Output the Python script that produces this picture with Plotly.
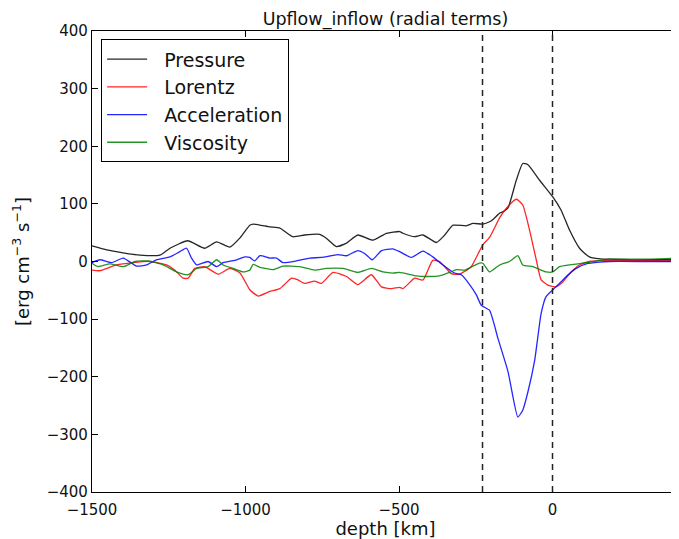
import plotly.graph_objects as go

# ---- data ----
pressure_depth = [-1500, -1452, -1399, -1344, -1279, -1246, -1188, -1133, -1094, -1051, -1018, -986, -975,
                  -921, -888, -846, -807, -758, -736, -704, -671, -634, -585, -541, -498, -487, -449, -422,
                  -378, -351, -324, -281, -259, -227, -205, -194, -172, -162, -145, -118, -97, -80, -42, 1,
                  28, 55, 88, 120, 164, 185, 250, 320, 412]
pressure_vals = [27, 20, 15, 11, 11, 23, 36, 23, 34, 25, 41, 63, 65,
                 60, 58, 43, 46, 47, 40, 26, 32, 46, 37, 49, 52, 49, 43, 46,
                 33, 46, 63, 62, 66, 65, 69, 73, 84, 86, 93, 141, 170, 168, 141, 112,
                 89, 55, 23, 8, 4, 4, 3, 3, 3]

lorentz_depth = [-1500, -1474, -1420, -1366, -1312, -1257, -1230, -1203, -1187, -1165, -1133, -1089, -1051,
                 -1018, -986, -959, -921, -888, -850, -829, -807, -775, -753, -715, -671, -634, -590, -557,
                 -525, -498, -487, -449, -422, -390, -368, -351, -330, -303, -265, -238, -227, -205, -172,
                 -151, -118, -97, -75, -53, -37, -15, 12, 34, 61, 88, 120, 185, 300, 412]
lorentz_vals = [-15, -16, -6, -2, 0, -6, -15, -29, -29, -12, -9, -22, -12,
                -20, -49, -60, -52, -47, -29, -32, -38, -34, -38, -19, -26, -40, -23, -44,
                -47, -45, -47, -29, -32, 2, 0, -9, -21, -22, -9, 18, 29, 42, 76,
                92, 108, 98, 55, 3, -32, -41, -44, -35, -18, -6, 0, 2, 2, 1]

accel_depth = [-1500, -1474, -1436, -1398, -1355, -1322, -1290, -1246, -1214, -1192, -1176, -1159, -1122,
               -1094, -1073, -1029, -1002, -986, -970, -953, -921, -899, -878, -834, -791, -753, -699,
               -671, -634, -612, -587, -557, -520, -498, -460, -422, -390, -357, -319, -297, -270, -248,
               -232, -205, -178, -145, -113, -97, -80, -58, -37, -21, 1, 34, 45, 77, 110, 153, 185, 300, 412]
accel_vals = [-2, 3, -2, 6, -8, -6, 3, 8, 17, 23, 6, -6, 0,
              -9, -2, 3, 8, 7, 1, 10, 6, 6, -2, 1, 6, 7, 12,
              10, 19, 14, 3, 19, 22, 17, 7, 18, 8, -6, -20, -23, -40, -58,
              -76, -85, -133, -191, -270, -258, -226, -171, -90, -61, -49, -32, -26, -12, -4, -1, 0, 0, 0]

visc_depth = [-1500, -1480, -1442, -1398, -1360, -1317, -1268, -1225, -1187, -1159, -1122, -1094, -1073,
              -1040, -1008, -986, -975, -953, -910, -878, -823, -775, -736, -682, -634, -590, -552, -520,
              -498, -444, -411, -368, -335, -313, -286, -259, -238, -227, -205, -172, -140, -113, -97,
              -64, -21, 1, 23, 55, 110, 185, 300, 412]
visc_vals = [-3, -9, -4, -9, 0, 1, -6, -18, -23, -12, -9, 3, -6,
             -12, -18, -15, -5, -10, -14, -8, -9, -15, -12, -12, -19, -12, -18, -20,
             -19, -25, -26, -25, -19, -14, -15, -8, -3, -3, -18, -6, 0, 10, -6,
             -9, -18, -18, -9, -6, -2, 4, 4, 6]

ref_depths = [-228, 0]

series = [
    ("Pressure", pressure_depth, pressure_vals, "#000000"),
    ("Lorentz", lorentz_depth, lorentz_vals, "#ff0000"),
    ("Acceleration", accel_depth, accel_vals, "#0000ff"),
    ("Viscosity", visc_depth, visc_vals, "#008000"),
]

x_ticks = [-1500, -1000, -500, 0, 500]
y_ticks = [-400, -300, -200, -100, 0, 100, 200, 300, 400]

FONT = "DejaVu Sans, Liberation Sans, sans-serif"
PAD = "\u00a0\u00a0"  # small gap between legend line sample and label

fig = go.Figure()
for name, xs, ys, col in series:
    fig.add_trace(go.Scatter(x=xs, y=ys, mode="lines", name=PAD + name,
                             line=dict(color=col, width=1.3, shape="spline", smoothing=0.5),
                             opacity=0.85))

for d in ref_depths:
    fig.add_vline(x=d, line=dict(color="#222222", width=1.5, dash="6px,5px"))

# the page body adds an 8px offset; the figure is sized to compensate
fig.update_layout(
    width=671, height=531,
    margin=dict(l=84, r=0, t=23, b=47, autoexpand=False),
    paper_bgcolor="white", plot_bgcolor="white",
    font=dict(family=FONT, size=15, color="#111111"),
    title=dict(text="Upflow_inflow (radial terms)", x=0.5626, xanchor="center",
               y=0.979, yanchor="middle", font=dict(size=17.5)),
    showlegend=True,
    legend=dict(x=0.0155, y=0.982, xanchor="left", yanchor="top",
                bgcolor="white", bordercolor="#000000", borderwidth=1,
                font=dict(size=19), tracegroupgap=0, itemwidth=40),
)
fig.update_xaxes(range=[-1500, 412], tickvals=x_ticks, ticks="inside", ticklen=6,
                 tickcolor="#000000", showline=True, linecolor="#000000", linewidth=1.2,
                 mirror="ticks", showgrid=False, zeroline=False, automargin=False,
                 ticklabelstandoff=4,
                 title=dict(text="depth [km]", font=dict(size=18), standoff=4))
fig.update_yaxes(range=[-400, 400], tickvals=y_ticks, ticks="inside", ticklen=6,
                 tickcolor="#000000", showline=True, linecolor="#000000", linewidth=1.2,
                 mirror=False, showgrid=False, zeroline=False, automargin=False,
                 title=dict(text="[erg cm<sup>−3</sup> s<sup>−1</sup>]", font=dict(size=18), standoff=12))

fig.write_html("out.html")
